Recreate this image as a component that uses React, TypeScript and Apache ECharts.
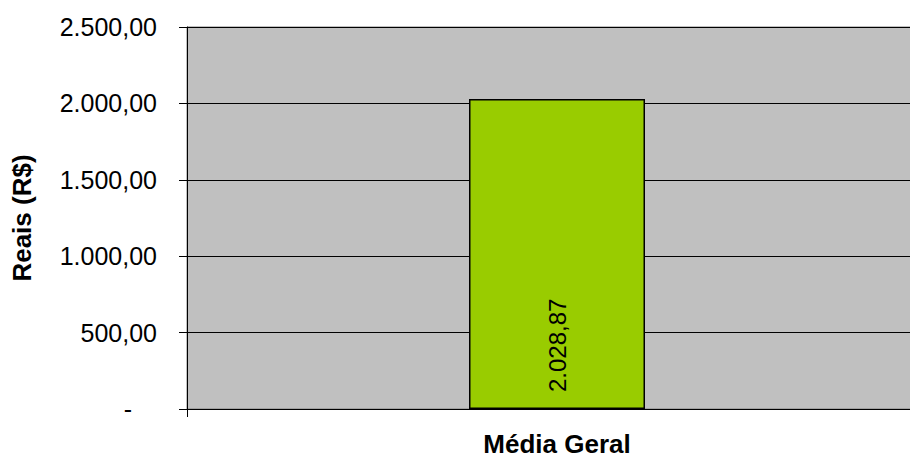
import React, { useEffect, useRef } from "react";
import * as echarts from "echarts";

const categories = ["Média Geral"];
const values = [2028.87];
const yTicks = { min: 0, max: 2500, interval: 500 };
const yAxisTitle = "Reais (R$)";

function fmtBR(v: number): string {
  const fixed = v.toFixed(2);
  const [intPart, dec] = fixed.split(".");
  const withSep = intPart.replace(/\B(?=(\d{3})+(?!\d))/g, ".");
  return withSep + "," + dec;
}

const FONT = "'Liberation Sans', Arial, sans-serif";

export default function App() {
  const ref = useRef<HTMLDivElement>(null);
  useEffect(() => {
    document.body.style.margin = "0";
    if (!ref.current) return;
    const chart = echarts.init(ref.current, undefined, { renderer: "svg" });
    chart.setOption({
      animation: false,
      backgroundColor: "#FFFFFF",
      grid: {
        left: 187,
        top: 27,
        width: 740,
        height: 382,
        show: true,
        backgroundColor: "#C0C0C0",
        borderColor: "#808080",
        borderWidth: 1,
      },
      xAxis: {
        type: "category",
        data: categories,
        boundaryGap: true,
        axisLine: { show: true, lineStyle: { color: "#000", width: 1 } },
        axisTick: { show: true, length: 8, lineStyle: { color: "#000" } },
        axisLabel: {
          margin: 22,
          fontFamily: FONT,
          fontSize: 26,
          fontWeight: "bold",
          color: "#000",
        },
      },
      yAxis: {
        type: "value",
        min: yTicks.min,
        max: yTicks.max,
        interval: yTicks.interval,
        name: yAxisTitle,
        nameLocation: "middle",
        nameGap: 152,
        nameRotate: 90,
        nameTextStyle: {
          fontFamily: FONT,
          fontSize: 26,
          fontWeight: "bold",
          color: "#000",
        },
        axisLine: { show: true, lineStyle: { color: "#000", width: 1 } },
        axisTick: { show: true, length: 8, lineStyle: { color: "#000" } },
        splitLine: { show: true, lineStyle: { color: "#000", width: 1 } },
        axisLabel: {
          margin: 30,
          fontFamily: FONT,
          fontSize: 25,
          color: "#000",
          formatter: (v: number) => (v === 0 ? "{z|-}" : fmtBR(v)),
          rich: {
            z: {
              fontFamily: FONT,
              fontSize: 25,
              color: "#000",
              padding: [0, 25, 0, 0],
            },
          },
        },
      },
      series: [
        {
          type: "bar",
          data: values,
          barWidth: 176,
          itemStyle: { color: "#99CC00", borderColor: "#000", borderWidth: 1.5 },
          label: {
            show: true,
            position: "insideBottom",
            rotate: 90,
            align: "left",
            verticalAlign: "middle",
            distance: 17,
            fontFamily: FONT,
            fontSize: 24,
            color: "#000",
            formatter: (p: any) => fmtBR(p.value),
          },
        },
      ],
    });
    return () => chart.dispose();
  }, []);
  return (
    <div style={{ width: 910, height: 459, overflow: "hidden", position: "relative" }}>
      <div ref={ref} style={{ width: 930, height: 459 }} />
    </div>
  );
}
